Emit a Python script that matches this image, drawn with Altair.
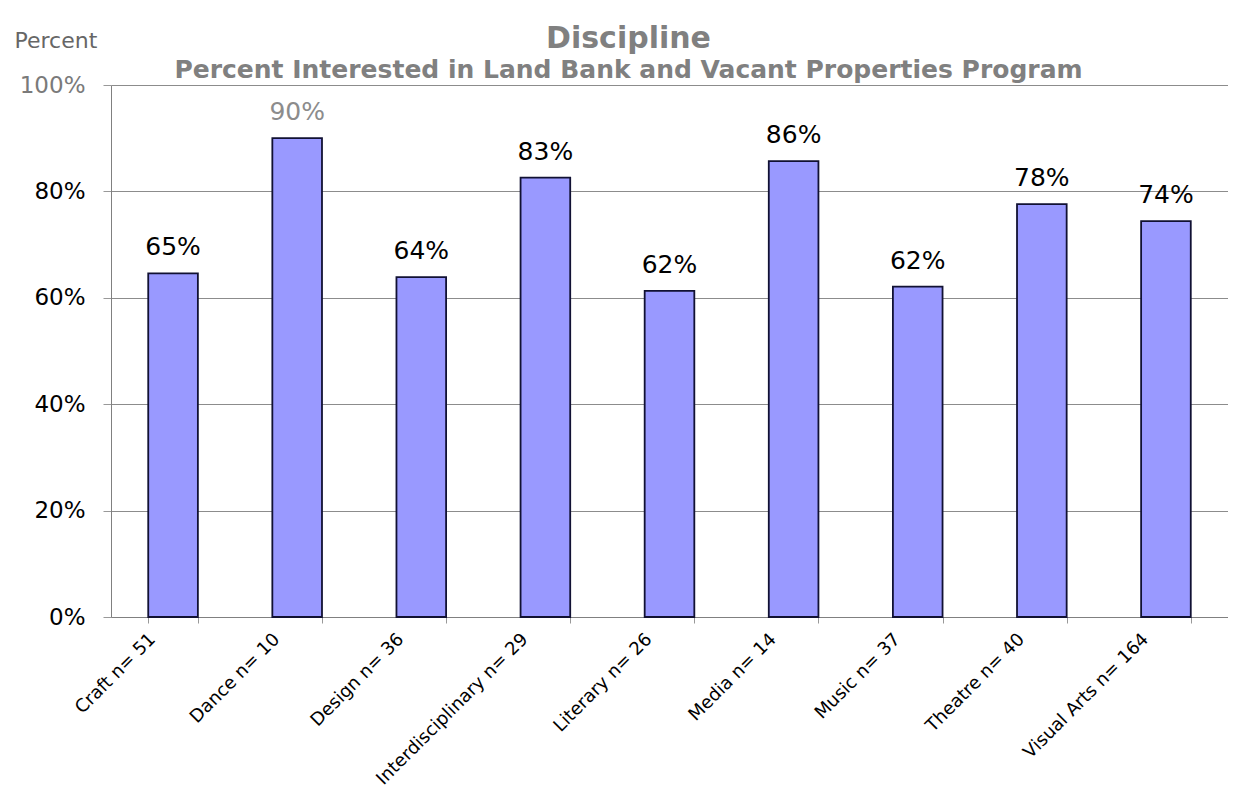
import altair as alt
import pandas as pd

categories = ["Craft n= 51", "Dance n= 10", "Design n= 36", "Interdisciplinary n= 29",
              "Literary n= 26", "Media n= 14", "Music n= 37", "Theatre n= 40", "Visual Arts n= 164"]
values = [0.646, 0.900, 0.639, 0.826, 0.613, 0.857, 0.621, 0.776, 0.744]
labels = ["65%", "90%", "64%", "83%", "62%", "86%", "62%", "78%", "74%"]

df = pd.DataFrame({"category": categories, "value": values, "label": labels})

FONT = "DejaVu Sans"

x = alt.X("category:N", sort=categories, title=None,
          scale=alt.Scale(paddingInner=0.6, paddingOuter=0.3),
          axis=alt.Axis(labelAngle=-45, labelFontSize=18, labelColor="black", labelFont=FONT,
                        tickBand="extent", tickColor="#999999", tickSize=6, domainColor="#808080",
                        labelPadding=7, labelOffset=-27, labelLimit=400))
y = alt.Y("value:Q", scale=alt.Scale(domain=[0, 1]),
          axis=alt.Axis(values=[0, 0.2, 0.4, 0.6, 0.8, 1.0], format=".0%",
                        labelFontSize=23, labelFont=FONT,
                        labelColor={"condition": {"test": "datum.value == 1", "value": "#7a7a7a"}, "value": "black"},
                        labelPadding=18, tickSize=8, tickColor="#999999", domainColor="#808080",
                        gridColor="#8c8c8c", gridWidth=1,
                        title="Percent", titleAngle=0, titleAlign="left", titleBaseline="alphabetic",
                        titleX=-97, titleY=-38, titleFontSize=22, titleFontWeight="normal",
                        titleColor="#666666", titleFont=FONT))

bars = alt.Chart(df).mark_bar(color="#9999FF", stroke="#111133", strokeWidth=1.8).encode(x=x, y=y)

text = alt.Chart(df).mark_text(fontSize=25, font=FONT, baseline="alphabetic", dy=-18).encode(
    x=alt.X("category:N", sort=categories),
    y="value:Q",
    text="label:N",
    color=alt.condition(alt.datum.category == "Dance n= 10", alt.value("#8c8c8c"), alt.value("black")),
)

chart = (bars + text).properties(
    width=1117, height=532,
    autosize=alt.AutoSizeParams(type="none"),
    padding={"left": 103, "top": 77, "right": 0, "bottom": 176},
    title=alt.TitleParams(
        "Discipline",
        subtitle="Percent Interested in Land Bank and Vacant Properties Program",
        anchor="middle", dx=-41, dy=58, offset=4,
        font=FONT, fontSize=30, fontWeight="bold", color="#808080",
        subtitleFont=FONT, subtitleFontSize=25, subtitleFontWeight="bold", subtitleColor="#808080",
        subtitlePadding=4,
    ),
).configure_view(stroke=None)

chart.save("out.html", embed_options={"renderer": "svg", "actions": False})
